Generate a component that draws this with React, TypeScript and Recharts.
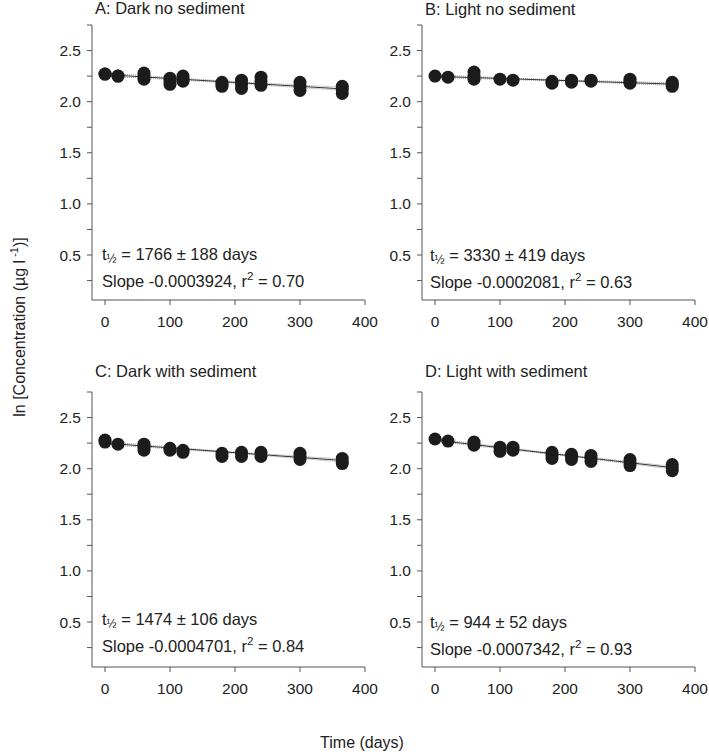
import React from 'react';
import { ScatterChart, Scatter, XAxis, YAxis } from 'recharts';

const FONT = '"Liberation Sans", Arial, sans-serif';

const days = [0, 20, 60, 100, 120, 180, 210, 240, 300, 365];
const fitDays = [0, 182, 365];
const xTicks = [0, 100, 200, 300, 400];
const yTicks = [0.25, 0.5, 0.75, 1.0, 1.25, 1.5, 1.75, 2.0, 2.25, 2.5, 2.75];
const yLabels = [0.5, 1.0, 1.5, 2.0, 2.5];

// replicate ln concentrations per sampling day
const darkNoSed = [
  [2.27, 2.27], [2.25, 2.25], [2.28, 2.25, 2.22], [2.23, 2.2, 2.17], [2.25, 2.22, 2.2],
  [2.19, 2.17, 2.15], [2.21, 2.17, 2.13], [2.24, 2.2, 2.16], [2.19, 2.15, 2.11], [2.15, 2.12, 2.08],
];
const lightNoSed = [
  [2.25], [2.24], [2.29, 2.25, 2.22], [2.22], [2.21],
  [2.2, 2.18], [2.21, 2.19], [2.21, 2.2], [2.22, 2.2, 2.18], [2.19, 2.17, 2.15],
];
const darkSed = [
  [2.28, 2.26], [2.24], [2.24, 2.21, 2.18], [2.2, 2.18], [2.18, 2.16],
  [2.15, 2.12], [2.16, 2.12], [2.16, 2.12], [2.15, 2.12, 2.09], [2.1, 2.07, 2.05],
];
const lightSed = [
  [2.29], [2.27], [2.26, 2.23], [2.21, 2.17], [2.21, 2.18],
  [2.16, 2.13, 2.1], [2.14, 2.12, 2.09], [2.13, 2.1, 2.07], [2.09, 2.06, 2.03], [2.04, 2.01, 1.98],
];

// regression line and confidence band read at 0, 182, 365 days
const fitA = [2.265, 2.195, 2.125];
const upperA = [2.28, 2.202, 2.14];
const lowerA = [2.25, 2.188, 2.11];
const fitB = [2.248, 2.21, 2.172];
const upperB = [2.26, 2.216, 2.184];
const lowerB = [2.236, 2.204, 2.16];
const fitC = [2.25, 2.165, 2.08];
const upperC = [2.264, 2.171, 2.094];
const lowerC = [2.236, 2.159, 2.066];
const fitD = [2.28, 2.145, 2.01];
const upperD = [2.293, 2.151, 2.023];
const lowerD = [2.267, 2.139, 1.997];

const toPoints = (reps: number[][]) =>
  reps.flatMap((vals, i) => vals.map((v) => ({ x: days[i], y: v })));
const toLine = (vals: number[]) => vals.map((v, i) => ({ x: fitDays[i], y: v }));

const Dot = (props: any) => <circle cx={props.cx} cy={props.cy} r={6.5} fill="#1c1c1c" />;
const NoDot = () => null;

interface PanelProps {
  left: number;
  top: number;
  reps: number[][];
  fit: number[];
  upper: number[];
  lower: number[];
}

const Panel = ({ left, top, reps, fit, upper, lower }: PanelProps) => (
  <div style={{ position: 'absolute', left, top }}>
    <ScatterChart width={379} height={340} margin={{ top: 25, right: 14, bottom: 0, left: 0 }}>
      <XAxis
        type="number"
        dataKey="x"
        domain={[-20, 400]}
        ticks={xTicks}
        height={40}
        axisLine={{ stroke: '#555' }}
        tickLine={{ stroke: '#555' }}
        tickSize={5}
        tickMargin={11}
        tick={{ fill: '#222', fontSize: 15.5, fontFamily: FONT }}
        allowDataOverflow
      />
      <YAxis
        type="number"
        dataKey="y"
        domain={[0.06, 2.75]}
        ticks={yTicks}
        width={92}
        axisLine={{ stroke: '#555' }}
        tickLine={{ stroke: '#555' }}
        tickSize={5}
        tickMargin={6}
        tickFormatter={(v: number) => (yLabels.some((l) => Math.abs(l - v) < 1e-6) ? v.toFixed(1) : '')}
        tick={{ fill: '#222', fontSize: 15.5, fontFamily: FONT }}
        allowDataOverflow
      />
      <Scatter data={toLine(upper)} line={{ stroke: '#999', strokeWidth: 1, strokeDasharray: '1 1' }} shape={NoDot} isAnimationActive={false} />
      <Scatter data={toLine(lower)} line={{ stroke: '#999', strokeWidth: 1, strokeDasharray: '1 1' }} shape={NoDot} isAnimationActive={false} />
      <Scatter data={toLine(fit)} line={{ stroke: '#333', strokeWidth: 1 }} shape={NoDot} isAnimationActive={false} />
      <Scatter data={toPoints(reps)} shape={Dot} isAnimationActive={false} />
    </ScatterChart>
  </div>
);

const Note = ({ x, y, half, slope, r2 }: { x: number; y: number; half: string; slope: string; r2: string }) => (
  <>
    <text x={x} y={y} fontSize={16.5}>
      t<tspan fontSize={12} dy={3}>½</tspan>
      <tspan dy={-3}>{` = ${half}`}</tspan>
    </text>
    <text x={x} y={y + 27} fontSize={16.5}>
      {`Slope ${slope}, r`}
      <tspan fontSize={11.5} dy={-7}>2</tspan>
      <tspan dy={7}>{` = ${r2}`}</tspan>
    </text>
  </>
);

export default function App() {
  return (
    <div style={{ position: 'absolute', left: 0, top: 0, width: 709, height: 754, background: '#fff', fontFamily: FONT }}>
      <Panel left={0} top={0} reps={darkNoSed} fit={fitA} upper={upperA} lower={lowerA} />
      <Panel left={330} top={0} reps={lightNoSed} fit={fitB} upper={upperB} lower={lowerB} />
      <Panel left={0} top={367} reps={darkSed} fit={fitC} upper={upperC} lower={lowerC} />
      <Panel left={330} top={367} reps={lightSed} fit={fitD} upper={upperD} lower={lowerD} />
      <svg width={709} height={754} style={{ position: 'absolute', left: 0, top: 0, pointerEvents: 'none' }} fontFamily={FONT} fill="#222">
        <text x={95} y={14} fontSize={16.5}>A: Dark no sediment</text>
        <text x={425} y={15} fontSize={16.5}>B: Light no sediment</text>
        <text x={95} y={377} fontSize={16.5}>C: Dark with sediment</text>
        <text x={425} y={377} fontSize={16.5}>D: Light with sediment</text>
        <Note x={102} y={260} half="1766 ± 188 days" slope="-0.0003924" r2="0.70" />
        <Note x={430} y={261} half="3330 ± 419 days" slope="-0.0002081" r2="0.63" />
        <Note x={102} y={625} half="1474 ± 106 days" slope="-0.0004701" r2="0.84" />
        <Note x={430} y={628} half="944 ± 52 days" slope="-0.0007342" r2="0.93" />
        <text transform="translate(25,327) rotate(-90)" textAnchor="middle" fontSize={16}>
          ln [Concentration (µg l
          <tspan fontSize={11} dy={-7}> -1</tspan>
          <tspan dy={7}>)]</tspan>
        </text>
        <text x={362} y={748} textAnchor="middle" fontSize={16}>Time (days)</text>
      </svg>
    </div>
  );
}
